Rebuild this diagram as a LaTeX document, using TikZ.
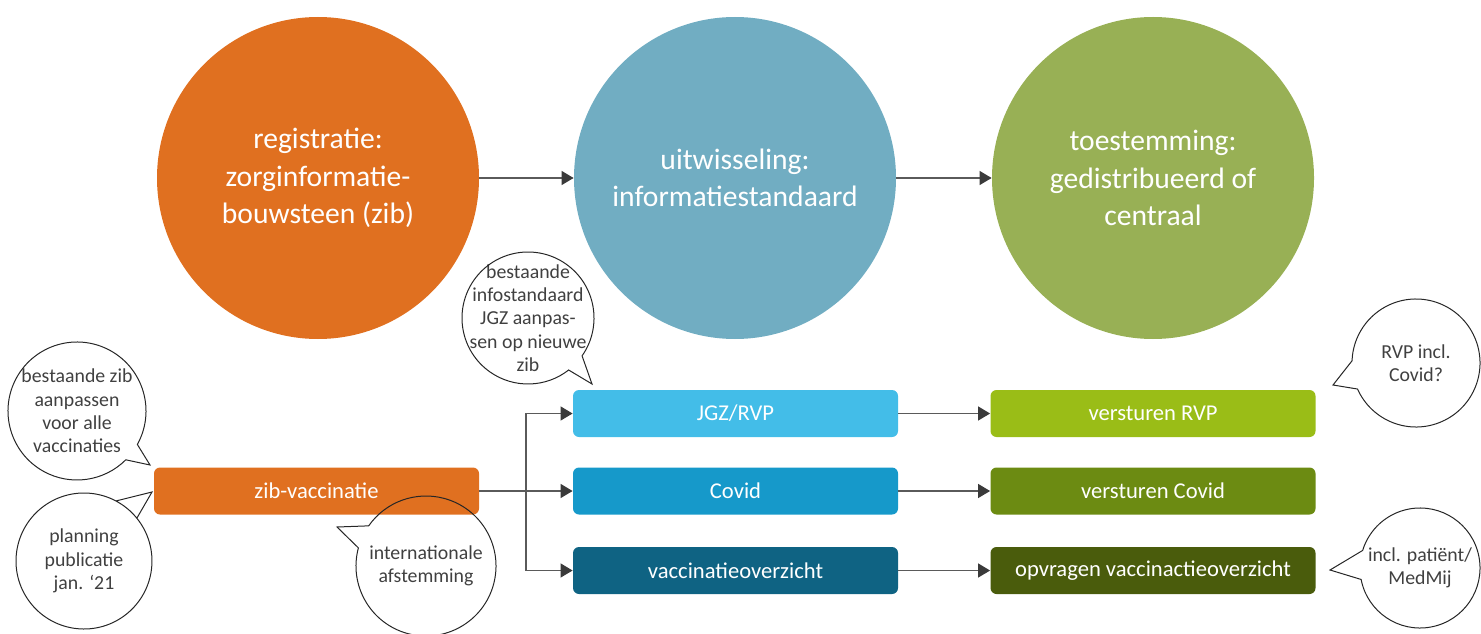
\documentclass[tikz,border=0pt]{standalone}
\usepackage{fontspec}
\setmainfont{Carlito}
\usetikzlibrary{arrows.meta,calc}
\definecolor{corange}{HTML}{E07020}
\definecolor{cblue}{HTML}{71ADC2}
\definecolor{cgreen}{HTML}{98B055}
\definecolor{bjgz}{HTML}{43BDE8}
\definecolor{bcovid}{HTML}{1699CA}
\definecolor{bvacc}{HTML}{0F6383}
\definecolor{gone}{HTML}{9ABD17}
\definecolor{gtwo}{HTML}{6C8B12}
\definecolor{gthree}{HTML}{4A5C0C}
\definecolor{linegray}{HTML}{5A5A5A}
\definecolor{tipgray}{HTML}{3A3A3A}
\definecolor{txtgray}{HTML}{404040}
\tikzset{
  bigcirc/.style={circle,minimum size=161pt,inner sep=0pt,text=white,align=center,
    font=\fontsize{14.8}{18.8}\selectfont},
  stepbox/.style={rectangle,rounded corners=3pt,minimum width=162.5pt,minimum height=23.5pt,
    inner sep=0pt,text=white,font=\fontsize{11.3}{13}\selectfont},
  arr/.style={draw=linegray,line width=0.6pt,-{Triangle[length=6pt,width=7pt,color=tipgray]}},
  plain/.style={draw=linegray,line width=0.6pt},
  bubtxt/.style={align=center,text=txtgray,inner sep=0pt,font=\fontsize{9.9}{11.7}\selectfont},
  bubline/.style={draw=black!85,line width=0.5pt}
}
% #1 node, #2 radius, #3 start angle, #4 end angle, #5 tip
\newcommand\speechbub[5]{\draw[bubline] ($(#1)+(#3:#2)$) arc[start angle=#3,end angle=#4,radius=#2] -- #5 -- cycle;}
\begin{document}
\begin{tikzpicture}[x=0.5pt,y=0.5pt]
\useasboundingbox (0,0) rectangle (1481,633);
\clip (0,0) rectangle (1481,633);
% big circles
\node[bigcirc,fill=corange] (reg) at (318,455) {registratie:\\zorginformatie-\\bouwsteen (zib)};
\node[bigcirc,fill=cblue] (uit) at (735,455) {uitwisseling:\\informatiestandaard};
\node[bigcirc,fill=cgreen] (toe) at (1153,455) {toestemming:\\gedistribueerd of\\centraal};
\draw[arr] (reg.east) -- (uit.west);
\draw[arr] (uit.east) -- (toe.west);
% boxes
\node[stepbox,fill=corange] (zib) at (316.5,142) {zib-vaccinatie};
\node[stepbox,fill=bjgz] (jgz) at (735.5,219.5) {JGZ/RVP};
\node[stepbox,fill=bcovid] (covid) at (735.5,142) {Covid};
\node[stepbox,fill=bvacc] (vacc) at (735.5,62.5) {vaccinatieoverzicht};
\node[stepbox,fill=gone] (vrvp) at (1153,219.5) {versturen RVP};
\node[stepbox,fill=gtwo] (vcovid) at (1153,142) {versturen Covid};
\node[stepbox,fill=gthree] (opv) at (1153,62.5) {opvragen vaccinactieoverzicht};
% connectors
\coordinate (br) at ($(zib.east)!0.5!(covid.west)$);
\draw[arr] (zib.east) -- (covid.west);
\draw[arr] (br) |- (jgz.west);
\draw[arr] (br) |- (vacc.west);
\draw[arr] (jgz.east) -- (vrvp.west);
\draw[arr] (covid.east) -- (vcovid.west);
\draw[arr] (vacc.east) -- (opv.west);
% speech bubbles
\node[bubtxt] (b1) at (77,222) {bestaande zib\\aanpassen\\voor alle\\vaccinaties};
\speechbub{b1}{34.5pt}{-29}{315}{(150,168)}
\node[bubtxt] (b2) at (84,72) {planning\\publicatie\\jan. ‘21};
\speechbub{b2}{34pt}{39}{422}{(152,141)}
\node[bubtxt] (b3) at (426,67) {internationale\\afstemming};
\speechbub{b3}{35pt}{165}{505}{(337,106)}
\node[bubtxt] (b4) at (528,315) {bestaande\\infostandaard\\JGZ aanpas-\\sen op nieuwe\\zib};
\speechbub{b4}{33pt}{-35}{308}{(592,249)}
\node[bubtxt] (b5) at (1416,270) {RVP incl.\\Covid?};
\speechbub{b5}{32pt}{204}{538}{(1333,248)}
\node[bubtxt] (b6) at (1420,65) {incl. patiënt/\\MedMij};
\speechbub{b6}{30pt}{191}{523}{(1330,63)}
\end{tikzpicture}
\end{document}
